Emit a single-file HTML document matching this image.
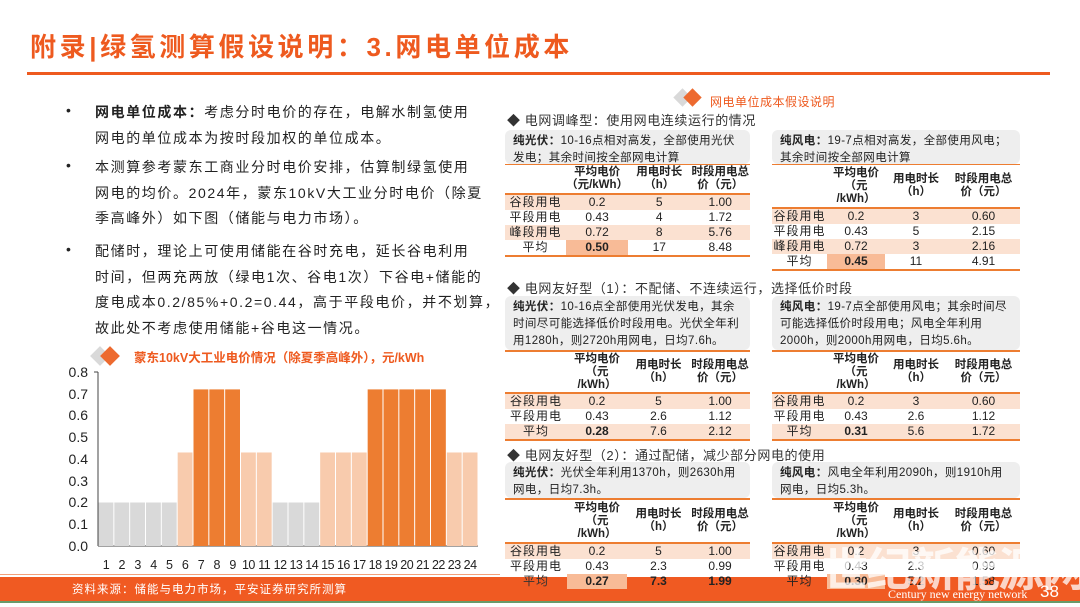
<!DOCTYPE html>
<html><head><meta charset="utf-8"><style>
*{margin:0;padding:0;box-sizing:border-box}
body{width:1080px;height:607px;position:relative;overflow:hidden;background:#fff;font-family:"Liberation Sans","Noto Sans CJK SC",sans-serif;color:#222}
.a{position:absolute;white-space:nowrap}
.title{left:30px;top:27px;font-size:26px;font-weight:bold;color:#ee5a1f;letter-spacing:3.6px}
.tl{left:27px;top:72px;width:1023px;height:3px;background:#ee5a1f}
.lt{font-size:14px;letter-spacing:1.6px;color:#222;left:95px}
.bul{left:66px;font-size:14px}
.sec{font-size:13px;left:507px;color:#333;letter-spacing:0.6px}
.box{background:#eeeeee;border-radius:6px;font-size:11.5px;line-height:17px;padding:3px 8px;color:#222;white-space:normal;letter-spacing:0.4px}
.ol{height:2px;background:#ed7d31}
table{position:absolute;border-collapse:collapse;font-size:12px;text-align:center}
td{padding:0;height:15px;line-height:15px}
th{font-weight:bold;font-size:11.5px;line-height:13px;vertical-align:middle}
tr.f td{background:#fbe1d1}
td.h{background:#f8bb97;font-weight:bold}
tr.last td{border-bottom:2px solid #ed7d31}
tr.hd th{border-bottom:2px solid #ed7d31}
td.lb{letter-spacing:1px}
</style></head><body>
<div class="a title">附录|绿氢测算假设说明：3.网电单位成本</div>
<div class="a tl"></div>

<div class="a bul" style="top:102px">•</div>
<div class="a lt" style="top:102px"><b>网电单位成本：</b>考虑分时电价的存在，电解水制氢使用</div>
<div class="a lt" style="top:128px">网电的单位成本为按时段加权的单位成本。</div>
<div class="a bul" style="top:157px">•</div>
<div class="a lt" style="top:157px">本测算参考蒙东工商业分时电价安排，估算制绿氢使用</div>
<div class="a lt" style="top:183px">网电的均价。2024年，蒙东10kV大工业分时电价（除夏</div>
<div class="a lt" style="top:208px">季高峰外）如下图（储能与电力市场）。</div>
<div class="a bul" style="top:241px">•</div>
<div class="a lt" style="top:241px">配储时，理论上可使用储能在谷时充电，延长谷电利用</div>
<div class="a lt" style="top:267px">时间，但两充两放（绿电1次、谷电1次）下谷电+储能的</div>
<div class="a lt" style="top:292px">度电成本0.2/85%+0.2=0.44，高于平段电价，并不划算，</div>
<div class="a lt" style="top:318px">故此处不考虑使用储能+谷电这一情况。</div>

<svg class="a" style="left:0;top:340px" width="500" height="240">
<g transform="translate(0,-340)">
<rect x="93" y="349" width="14" height="14" transform="rotate(45 100 356)" fill="#d9d9d9"/>
<rect x="103" y="349" width="14" height="14" transform="rotate(45 110 356)" fill="#ed6a2f"/>
<text x="134" y="362" font-size="12.5" fill="#ee5a1f" font-weight="bold" font-family="Liberation Sans,Noto Sans CJK SC,sans-serif">蒙东10kV大工业电价情况（除夏季高峰外），元/kWh</text>
<g font-size="14" fill="#222" text-anchor="end" font-family="Liberation Sans,sans-serif">
<text x="88" y="551">0.0</text><text x="88" y="529">0.1</text><text x="88" y="507">0.2</text><text x="88" y="486">0.3</text><text x="88" y="464">0.4</text><text x="88" y="442">0.5</text><text x="88" y="420">0.6</text><text x="88" y="399">0.7</text><text x="88" y="377">0.8</text>
</g>
<line x1="98" y1="372" x2="98" y2="546" stroke="#444"/>
<line x1="94" y1="372" x2="98" y2="372" stroke="#444"/>
<line x1="98" y1="546" x2="478" y2="546" stroke="#444"/>
</g>
</svg>
<svg class="a" style="left:0;top:0" width="500" height="600" id="bs"></svg>

<div class="a" style="left:0;top:574px;width:500px;height:1px;background:#f3a07a"></div>

<div class="a" style="left:676px;top:91px;width:13px;height:13px;background:#d9d9d9;transform:rotate(45deg)"></div>
<div class="a" style="left:686px;top:91px;width:13px;height:13px;background:#ed6a2f;transform:rotate(45deg)"></div>
<div class="a" style="left:710px;top:93px;font-size:12px;color:#ee5a1f;letter-spacing:0.5px">网电单位成本假设说明</div>

<div class="a sec" style="top:110px">◆ 电网调峰型：使用网电连续运行的情况</div>
<div class="a box" style="left:505px;top:130px;width:245px;height:34px"><b>纯光伏：</b>10-16点相对高发，全部使用光伏发电；其余时间按全部网电计算</div>
<div class="a box" style="left:772px;top:130px;width:248px;height:34px"><b>纯风电：</b>19-7点相对高发，全部使用风电；其余时间按全部网电计算</div>
<div class="a ol" style="left:505px;top:164px;width:245px;height:1px"></div>
<div class="a ol" style="left:772px;top:164px;width:248px;height:1px"></div>
<table style="left:505px;top:165px;width:245px">
<colgroup><col style="width:62px"><col style="width:60px"><col style="width:63px"><col style="width:60px"></colgroup>
<tr class="hd"><th style="height:29px"></th><th>平均电价<br>（元/kWh）</th><th>用电时长<br>（h）</th><th>时段用电总<br>价（元）</th></tr>
<tr class="f"><td class="lb">谷段用电</td><td>0.2</td><td>5</td><td>1.00</td></tr>
<tr><td class="lb">平段用电</td><td>0.43</td><td>4</td><td>1.72</td></tr>
<tr class="f"><td class="lb">峰段用电</td><td>0.72</td><td>8</td><td>5.76</td></tr>
<tr class="last"><td class="lb">平均</td><td class="h">0.50</td><td>17</td><td>8.48</td></tr>
</table>
<table style="left:772px;top:165px;width:248px">
<colgroup><col style="width:55px"><col style="width:58px"><col style="width:62px"><col style="width:73px"></colgroup>
<tr class="hd"><th style="height:43px"></th><th>平均电价<br>（元<br>/kWh）</th><th>用电时长<br>（h）</th><th>时段用电总<br>价（元）</th></tr>
<tr class="f"><td class="lb">谷段用电</td><td>0.2</td><td>3</td><td>0.60</td></tr>
<tr><td class="lb">平段用电</td><td>0.43</td><td>5</td><td>2.15</td></tr>
<tr class="f"><td class="lb">峰段用电</td><td>0.72</td><td>3</td><td>2.16</td></tr>
<tr class="last"><td class="lb">平均</td><td class="h">0.45</td><td>11</td><td>4.91</td></tr>
</table>

<div class="a sec" style="top:278px">◆ 电网友好型（1）：不配储、不连续运行，选择低价时段</div>
<div class="a box" style="left:505px;top:296px;width:245px;height:54px"><b>纯光伏：</b>10-16点全部使用光伏发电，其余时间尽可能选择低价时段用电。光伏全年利用1280h，则2720h用网电，日均7.6h。</div>
<div class="a box" style="left:772px;top:296px;width:248px;height:54px"><b>纯风电：</b>19-7点全部使用风电；其余时间尽可能选择低价时段用电；风电全年利用2000h，则2000h用网电，日均5.6h。</div>
<div class="a ol" style="left:505px;top:350px;width:245px"></div>
<div class="a ol" style="left:772px;top:350px;width:248px"></div>
<table style="left:505px;top:352px;width:245px">
<colgroup><col style="width:62px"><col style="width:60px"><col style="width:63px"><col style="width:60px"></colgroup>
<tr class="hd"><th style="height:41px"></th><th>平均电价<br>（元<br>/kWh）</th><th>用电时长<br>（h）</th><th>时段用电总<br>价（元）</th></tr>
<tr class="f"><td class="lb">谷段用电</td><td>0.2</td><td>5</td><td>1.00</td></tr>
<tr><td class="lb">平段用电</td><td>0.43</td><td>2.6</td><td>1.12</td></tr>
<tr class="f last"><td class="lb">平均</td><td class="h">0.28</td><td>7.6</td><td>2.12</td></tr>
</table>
<table style="left:772px;top:352px;width:248px">
<colgroup><col style="width:55px"><col style="width:58px"><col style="width:62px"><col style="width:73px"></colgroup>
<tr class="hd"><th style="height:41px"></th><th>平均电价<br>（元<br>/kWh）</th><th>用电时长<br>（h）</th><th>时段用电总<br>价（元）</th></tr>
<tr class="f"><td class="lb">谷段用电</td><td>0.2</td><td>3</td><td>0.60</td></tr>
<tr><td class="lb">平段用电</td><td>0.43</td><td>2.6</td><td>1.12</td></tr>
<tr class="f last"><td class="lb">平均</td><td class="h">0.31</td><td>5.6</td><td>1.72</td></tr>
</table>

<div class="a sec" style="top:445px">◆ 电网友好型（2）：通过配储，减少部分网电的使用</div>
<div class="a box" style="left:505px;top:462px;width:245px;height:36px"><b>纯光伏：</b>光伏全年利用1370h，则2630h用网电，日均7.3h。</div>
<div class="a box" style="left:772px;top:462px;width:248px;height:36px"><b>纯风电：</b>风电全年利用2090h，则1910h用网电，日均5.3h。</div>
<div class="a ol" style="left:505px;top:498px;width:245px"></div>
<div class="a ol" style="left:772px;top:498px;width:248px"></div>

<div class="a" style="left:0;top:577px;width:1080px;height:24px;background:#f05a22"></div>
<div class="a" style="left:0;top:601px;width:1080px;height:2px;background:#6a9a6a"></div>
<div class="a" style="left:72px;top:581px;font-size:11.5px;color:#fff;letter-spacing:1px">资料来源：储能与电力市场，平安证券研究所测算</div>

<table style="left:505px;top:500px;width:245px">
<colgroup><col style="width:62px"><col style="width:60px"><col style="width:63px"><col style="width:60px"></colgroup>
<tr class="hd"><th style="height:43px"></th><th>平均电价<br>（元<br>/kWh）</th><th>用电时长<br>（h）</th><th>时段用电总<br>价（元）</th></tr>
<tr class="f"><td class="lb">谷段用电</td><td>0.2</td><td>5</td><td>1.00</td></tr>
<tr style="background:#fff"><td class="lb">平段用电</td><td>0.43</td><td>2.3</td><td>0.99</td></tr>
<tr><td class="lb" style="color:#333">平均</td><td class="h">0.27</td><td style="font-weight:bold">7.3</td><td style="font-weight:bold">1.99</td></tr>
</table>
<table style="left:772px;top:500px;width:248px">
<colgroup><col style="width:55px"><col style="width:58px"><col style="width:62px"><col style="width:73px"></colgroup>
<tr class="hd"><th style="height:43px"></th><th>平均电价<br>（元<br>/kWh）</th><th>用电时长<br>（h）</th><th>时段用电总<br>价（元）</th></tr>
<tr class="f"><td class="lb">谷段用电</td><td>0.2</td><td>3</td><td>0.60</td></tr>
<tr style="background:#fff"><td class="lb">平段用电</td><td>0.43</td><td>2.3</td><td>0.99</td></tr>
<tr><td class="lb">平均</td><td class="h">0.30</td><td>5.2</td><td>1.58</td></tr>
</table>

<div class="a" style="left:822px;top:534px;font-size:46px;font-weight:bold;color:rgba(255,255,255,0.75);letter-spacing:-2px">世纪新能源网</div>
<div class="a" style="left:888px;top:587px;font-size:12px;color:#fff;font-family:'Liberation Serif',serif">Century new energy network</div>
<div class="a" style="left:1040px;top:582px;font-size:17px;color:#fff">38</div>

<script>
var v=[.2,.2,.2,.2,.2,.43,.72,.72,.72,.43,.43,.2,.2,.2,.43,.43,.43,.72,.72,.72,.72,.72,.43,.43];
var s='',w=380/24;
for(var i=0;i<24;i++){var x=98+i*w,h=v[i]*217.5,c=v[i]==.2?'#d9d9d9':v[i]==.43?'#f8cbad':'#ed7d31';
s+='<rect x="'+(x+0.5)+'" y="'+(546-h)+'" width="'+(w-1)+'" height="'+h+'" fill="'+c+'"/>';
s+='<text x="'+(x+w/2)+'" y="569" font-size="12.5" text-anchor="middle" fill="#222" font-family="Liberation Sans,sans-serif" letter-spacing="-0.5">'+(i+1)+'</text>';}
document.getElementById('bs').innerHTML=s;
</script>
</body></html>
